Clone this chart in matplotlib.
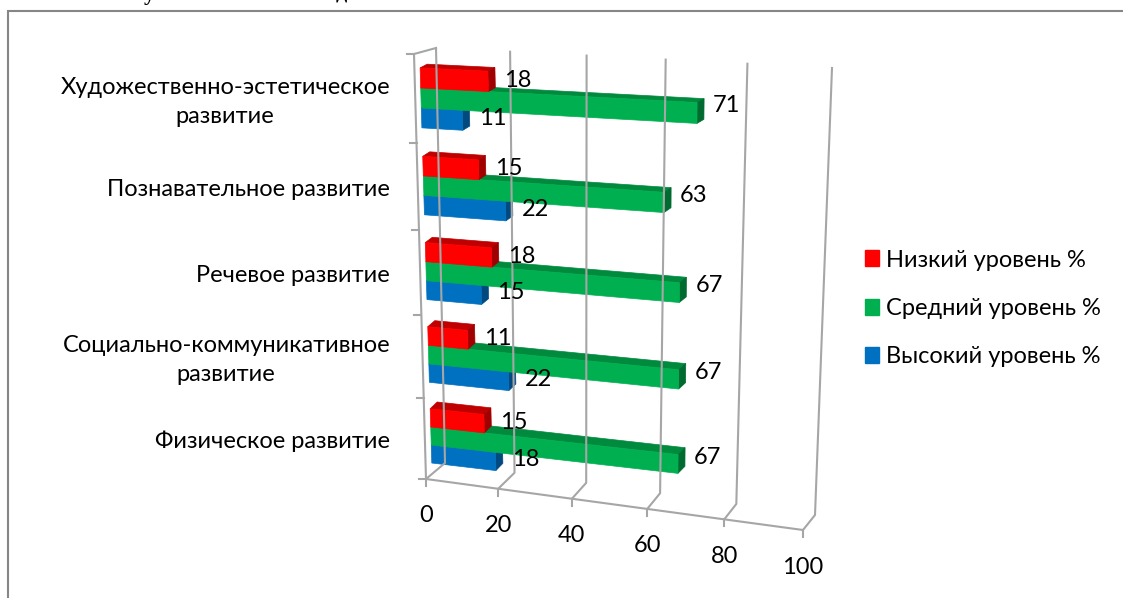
import numpy as np
import matplotlib
matplotlib.use("Agg")
import matplotlib.pyplot as plt
from matplotlib.patches import Patch
from matplotlib.transforms import Transform

plt.rcParams["font.family"] = ["Lato", "DejaVu Sans"]

categories = [
    "Физическое развитие",
    "Социально-коммуникативное\nразвитие",
    "Речевое развитие",
    "Познавательное развитие",
    "Художественно-эстетическое\nразвитие",
]
series_names = ["Высокий уровень %", "Средний уровень %", "Низкий уровень %"]
high_values = [18, 22, 15, 22, 11]
mid_values = [67, 67, 67, 63, 71]
low_values = [15, 11, 18, 15, 18]
value_ticks = [0, 20, 40, 60, 80, 100]

FACE = ["#0070C0", "#00B050", "#FF0000"]
TOP = ["#005C9E", "#008A3E", "#C00000"]
SIDE = ["#004A80", "#006B30", "#A00000"]
LABEL_UP = [2, 7, 1]
FONT = 17
GRID = "#A6A6A6"
BAR = 0.225


class Perspective(Transform):
    """(value, category position) to picture pixels, from four matched corners."""

    input_dims = 2
    output_dims = 2

    def __init__(self, src, dst):
        super().__init__()
        rows, rhs = [], []
        for (u, v), (x, y) in zip(src, dst):
            rows.append([u, v, 1, 0, 0, 0, -u * x, -v * x])
            rows.append([0, 0, 0, u, v, 1, -u * y, -v * y])
            rhs += [x, y]
        self.h = np.append(np.linalg.solve(np.array(rows, float), np.array(rhs, float)), 1).reshape(3, 3)

    def transform_non_affine(self, values):
        pts = np.column_stack([values, np.ones(len(values))]) @ self.h.T
        return pts[:, :2] / pts[:, 2:]


corners = [(0, 0), (100, 0), (0, 5), (100, 5)]
wall_front = Perspective(corners, [(426, 479), (803, 530), (414, 54), (815, 83)])
wall_back = Perspective(corners, [(445, 463), (815, 515), (436, 48), (832, 68)])
bar_corners = [(0, 0.5), (67, 0.5), (0, 4.5), (71, 4.5)]
bar_front = Perspective(bar_corners, [(431, 436), (678, 464), (421, 98), (697, 113)])
bar_back = Perspective(bar_corners, [(438, 429), (685, 457), (428, 94), (704, 109)])

fig = plt.figure(figsize=(11.23, 5.98), dpi=100)
ax = fig.add_axes([0, 0, 1, 1])
ax.set_xlim(0, 1123)
ax.set_ylim(598, 0)
ax.axis("off")

# chart frame, and the caption of the page cut off by the top edge as in the reference
ax.plot([8, 8, 1123], [598, 11, 11], color="#868686", lw=1.5, solid_joinstyle="miter")
ax.text(149, 0, "у", family="Liberation Serif", weight="bold", fontsize=16, ha="center", va="baseline")
ax.text(341, -2, "д", family="Liberation Serif", weight="bold", fontsize=16, ha="center", va="baseline")

for v in value_ticks:
    front = wall_front.transform([(v, 0)])[0]
    back = wall_back.transform([(v, 0), (v, 5)])
    ax.plot([front[0], back[0][0], back[1][0]], [front[1], back[0][1], back[1][1]], color=GRID, lw=1.5)
    ax.plot([front[0], front[0]], [front[1], front[1] + 7], color=GRID, lw=1.5)
    ax.annotate(str(v), front, xytext=(0, -37), textcoords="offset pixels",
                ha="center", va="center", fontsize=FONT, color="black")

edge = wall_front.transform([(0, 5), (0, 0), (100, 0)])
ax.plot(edge[:, 0], edge[:, 1], color=GRID, lw=1.5)
top = np.vstack([wall_front.transform([(0, 5)]), wall_back.transform([(0, 5)])])
ax.plot(top[:, 0], top[:, 1], color=GRID, lw=1.5)
for c in range(len(categories) + 1):
    xy = wall_front.transform([(0, c)])[0]
    ax.plot([xy[0] - 7, xy[0]], [xy[1], xy[1]], color=GRID, lw=1.5)

for c, name in enumerate(categories):
    y = wall_front.transform([(0, c + 0.5)])[0][1]
    ax.text(390, y + 3, name, ha="right", va="center", multialignment="center",
            fontsize=FONT, linespacing=1.5, color="black")

for c in range(len(categories)):
    for s, vals in enumerate([high_values, mid_values, low_values]):
        v = vals[c]
        lo = c + 0.5 + (s - 1) * BAR - BAR / 2
        hi = lo + BAR
        f = bar_front.transform([(0, lo), (v, lo), (v, hi), (0, hi)])
        b = bar_back.transform([(0, lo), (v, lo), (v, hi), (0, hi)])
        ax.fill([f[3][0], f[2][0], b[2][0], b[3][0]], [f[3][1], f[2][1], b[2][1], b[3][1]], color=TOP[s], lw=0.5)
        ax.fill([f[1][0], f[2][0], b[2][0], b[1][0]], [f[1][1], f[2][1], b[2][1], b[1][1]], color=SIDE[s], lw=0.5)
        ax.fill(f[:, 0], f[:, 1], color=FACE[s], lw=0.5)
        end = bar_front.transform([(v, lo + BAR / 2)])[0]
        ax.annotate(str(v), end, xytext=(16, LABEL_UP[s]), textcoords="offset pixels",
                    ha="left", va="center", fontsize=FONT, color="black")

handles = [Patch(color=FACE[i], label=series_names[i]) for i in [2, 1, 0]]
ax.legend(handles=handles, loc="upper left", bbox_to_anchor=(860, 245), bbox_transform=ax.transData,
          frameon=False, fontsize=FONT, labelspacing=1.15, handlelength=0.6, handleheight=0.66,
          handletextpad=0.3, borderpad=0.2, borderaxespad=0)

fig.savefig("out.png", dpi=100)
